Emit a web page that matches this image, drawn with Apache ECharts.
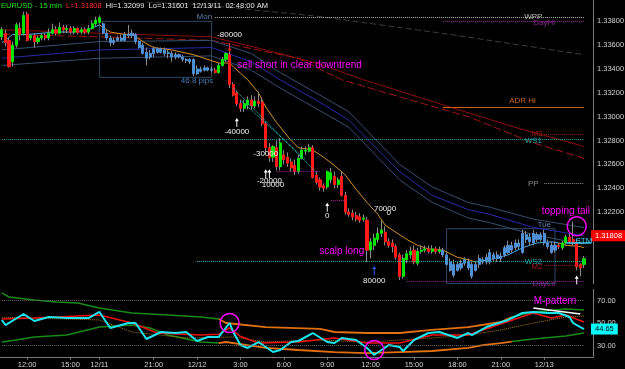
<!DOCTYPE html>
<html>
<head>
<meta charset="utf-8">
<title>EURUSD - 15 min</title>
<script src="https://cdn.jsdelivr.net/npm/echarts@6/dist/echarts.min.js"></script>
<style>
  html, body { margin: 0; padding: 0; background: #000; }
  #chart { width: 625px; height: 369px; }
</style>
</head>
<body>
<div id="chart"></div>
<script>
// 15 min bars, Fri 12/09 10:15 up to Tue 12/13 02:45 (weekend removed)
const barCount = 164;
const tickIndex = [7, 19, 27, 42, 54, 66, 78, 90, 102, 114, 126, 138, 150];
const tickLabels = ['12:00', '15:00', '12/11', '21:00', '12/12', '3:00', '6:00', '9:00', '12:00', '15:00', '18:00', '21:00', '12/13'];

// [open, close, low, high]
const candles = [
  [1.3367, 1.3373, 1.3364, 1.3375], [1.3370, 1.3362, 1.3359, 1.3373], [1.3364, 1.3342, 1.3341, 1.3366],
  [1.3346, 1.3360, 1.3342, 1.3363], [1.3360, 1.3377, 1.3358, 1.3379], [1.3374, 1.3369, 1.3364, 1.3379],
  [1.3370, 1.3385, 1.3368, 1.3388], [1.3386, 1.3364, 1.3363, 1.3388], [1.3366, 1.3368, 1.3364, 1.3369],
  [1.3368, 1.3363, 1.3358, 1.3370], [1.3363, 1.3366, 1.3361, 1.3368], [1.3366, 1.3368, 1.3364, 1.3370],
  [1.3368, 1.3366, 1.3364, 1.3370], [1.3366, 1.3370, 1.3364, 1.3374], [1.3370, 1.3373, 1.3369, 1.3378],
  [1.3373, 1.3370, 1.3368, 1.3376], [1.3370, 1.3375, 1.3369, 1.3379], [1.3375, 1.3373, 1.3370, 1.3377],
  [1.3373, 1.3374, 1.3370, 1.3377], [1.3374, 1.3371, 1.3369, 1.3376], [1.3371, 1.3374, 1.3369, 1.3376],
  [1.3374, 1.3371, 1.3369, 1.3375], [1.3371, 1.3373, 1.3369, 1.3375], [1.3373, 1.3371, 1.3369, 1.3375],
  [1.3371, 1.3374, 1.3369, 1.3377], [1.3374, 1.3378, 1.3373, 1.3381], [1.3378, 1.3381, 1.3376, 1.3384],
  [1.3379, 1.3383, 1.3378, 1.3385],
  // Mon session
  [1.3378, 1.3370, 1.3369, 1.3379], [1.3370, 1.3366, 1.3364, 1.3373], [1.3366, 1.3362, 1.3359, 1.3368],
  [1.3362, 1.3364, 1.3360, 1.3366], [1.3364, 1.3366, 1.3363, 1.3368], [1.3366, 1.3364, 1.3363, 1.3369],
  [1.3364, 1.3369, 1.3363, 1.3371], [1.3369, 1.3368, 1.3366, 1.3377], [1.3368, 1.3370, 1.3366, 1.3373],
  [1.3369, 1.3363, 1.3361, 1.3370], [1.3363, 1.3358, 1.3357, 1.3364], [1.3360, 1.3353, 1.3352, 1.3362],
  [1.3354, 1.3349, 1.3343, 1.3358], [1.3350, 1.3353, 1.3348, 1.3356], [1.3353, 1.3357, 1.3350, 1.3359],
  [1.3357, 1.3354, 1.3353, 1.3358], [1.3354, 1.3357, 1.3353, 1.3358], [1.3356, 1.3353, 1.3351, 1.3358],
  [1.3354, 1.3353, 1.3349, 1.3356], [1.3353, 1.3350, 1.3346, 1.3355], [1.3350, 1.3352, 1.3348, 1.3354],
  [1.3352, 1.3350, 1.3349, 1.3353], [1.3350, 1.3348, 1.3346, 1.3352], [1.3348, 1.3347, 1.3345, 1.3349],
  [1.3348, 1.3346, 1.3344, 1.3349], [1.3348, 1.3336, 1.3334, 1.3349], [1.3336, 1.3340, 1.3335, 1.3343],
  [1.3340, 1.3338, 1.3337, 1.3342], [1.3339, 1.3341, 1.3338, 1.3343], [1.3341, 1.3339, 1.3338, 1.3342],
  [1.3340, 1.3339, 1.3337, 1.3342],
  // Mon after session, the drop
  [1.3339, 1.3337, 1.3336, 1.3341], [1.3337, 1.3343, 1.3336, 1.3345], [1.3343, 1.3348, 1.3342, 1.3350],
  [1.3348, 1.3353, 1.3346, 1.3354], [1.3352, 1.3327, 1.3324, 1.3361], [1.3327, 1.3318, 1.3317, 1.3329],
  [1.3320, 1.3311, 1.3309, 1.3322], [1.3311, 1.3307, 1.3304, 1.3314], [1.3307, 1.3311, 1.3304, 1.3314],
  [1.3310, 1.3314, 1.3306, 1.3317], [1.3314, 1.3309, 1.3306, 1.3318], [1.3309, 1.3313, 1.3307, 1.3317],
  [1.3313, 1.3311, 1.3308, 1.3321], [1.3312, 1.3294, 1.3292, 1.3316], [1.3294, 1.3274, 1.3270, 1.3296],
  [1.3274, 1.3266, 1.3262, 1.3278], [1.3266, 1.3275, 1.3262, 1.3276], [1.3274, 1.3258, 1.3255, 1.3280],
  [1.3258, 1.3278, 1.3255, 1.3282], [1.3268, 1.3264, 1.3260, 1.3272], [1.3266, 1.3261, 1.3258, 1.3270],
  [1.3262, 1.3257, 1.3254, 1.3265], [1.3259, 1.3254, 1.3251, 1.3264], [1.3254, 1.3265, 1.3252, 1.3268],
  [1.3265, 1.3272, 1.3264, 1.3275], [1.3271, 1.3272, 1.3268, 1.3275], [1.3271, 1.3274, 1.3270, 1.3277],
  [1.3274, 1.3249, 1.3248, 1.3276], [1.3251, 1.3245, 1.3243, 1.3254], [1.3247, 1.3241, 1.3238, 1.3249],
  [1.3242, 1.3240, 1.3237, 1.3244], [1.3241, 1.3254, 1.3239, 1.3255], [1.3247, 1.3253, 1.3244, 1.3257],
  [1.3250, 1.3243, 1.3240, 1.3254], [1.3243, 1.3247, 1.3240, 1.3249], [1.3250, 1.3234, 1.3233, 1.3254],
  [1.3234, 1.3220, 1.3218, 1.3237], [1.3220, 1.3218, 1.3216, 1.3223], [1.3219, 1.3216, 1.3213, 1.3222],
  [1.3217, 1.3214, 1.3212, 1.3220], [1.3216, 1.3213, 1.3211, 1.3219], [1.3214, 1.3215, 1.3212, 1.3218],
  [1.3213, 1.3188, 1.3178, 1.3216], [1.3188, 1.3195, 1.3181, 1.3198], [1.3192, 1.3198, 1.3188, 1.3202],
  [1.3197, 1.3202, 1.3194, 1.3207], [1.3202, 1.3205, 1.3199, 1.3213], [1.3203, 1.3195, 1.3192, 1.3208],
  [1.3195, 1.3192, 1.3190, 1.3198], [1.3194, 1.3191, 1.3186, 1.3197], [1.3191, 1.3182, 1.3180, 1.3193],
  [1.3184, 1.3166, 1.3163, 1.3186], [1.3166, 1.3181, 1.3164, 1.3184], [1.3180, 1.3185, 1.3177, 1.3188],
  [1.3184, 1.3187, 1.3181, 1.3191], [1.3188, 1.3178, 1.3176, 1.3192], [1.3177, 1.3187, 1.3175, 1.3190],
  [1.3187, 1.3188, 1.3185, 1.3192], [1.3188, 1.3189, 1.3186, 1.3192], [1.3189, 1.3187, 1.3185, 1.3192],
  [1.3187, 1.3189, 1.3185, 1.3192], [1.3189, 1.3187, 1.3185, 1.3191], [1.3187, 1.3188, 1.3185, 1.3191],
  // Tue session
  [1.3188, 1.3184, 1.3182, 1.3190], [1.3184, 1.3176, 1.3175, 1.3186], [1.3178, 1.3171, 1.3170, 1.3181],
  [1.3176, 1.3167, 1.3165, 1.3180], [1.3176, 1.3171, 1.3170, 1.3178], [1.3173, 1.3177, 1.3171, 1.3180],
  [1.3177, 1.3180, 1.3175, 1.3182], [1.3178, 1.3173, 1.3171, 1.3181], [1.3176, 1.3166, 1.3164, 1.3178],
  [1.3171, 1.3176, 1.3170, 1.3178], [1.3176, 1.3181, 1.3173, 1.3184], [1.3180, 1.3178, 1.3176, 1.3182],
  [1.3178, 1.3182, 1.3176, 1.3185], [1.3178, 1.3186, 1.3176, 1.3189], [1.3184, 1.3181, 1.3178, 1.3186],
  [1.3181, 1.3184, 1.3178, 1.3187], [1.3183, 1.3181, 1.3178, 1.3186], [1.3184, 1.3190, 1.3182, 1.3192],
  [1.3186, 1.3192, 1.3185, 1.3196], [1.3192, 1.3188, 1.3186, 1.3195], [1.3190, 1.3194, 1.3188, 1.3197],
  [1.3191, 1.3194, 1.3189, 1.3197], [1.3186, 1.3202, 1.3185, 1.3205], [1.3201, 1.3197, 1.3194, 1.3204],
  [1.3199, 1.3195, 1.3192, 1.3202], [1.3194, 1.3202, 1.3192, 1.3205], [1.3201, 1.3197, 1.3195, 1.3203],
  [1.3197, 1.3201, 1.3195, 1.3203], [1.3202, 1.3194, 1.3192, 1.3205], [1.3194, 1.3191, 1.3189, 1.3197],
  [1.3192, 1.3186, 1.3185, 1.3195], [1.3188, 1.3192, 1.3186, 1.3195],
  // 12/13 early
  [1.3192, 1.3191, 1.3189, 1.3194], [1.3190, 1.3194, 1.3188, 1.3196], [1.3194, 1.3199, 1.3192, 1.3201],
  [1.3199, 1.3195, 1.3193, 1.3202], [1.3197, 1.3194, 1.3192, 1.3212], [1.3194, 1.3174, 1.3171, 1.3197],
  [1.3176, 1.3173, 1.3166, 1.3177], [1.3176, 1.31808, 1.3173, 1.3183]
];

// bars painted blue inside the session boxes
const monSession = [28, 58];
const tueSession = [122, 153];

// moving average [bar, value]; blue while rising, orange while falling
const ema = [
  [0, 1.3362], [1, 1.3364], [3, 1.3369], [7, 1.3369], [11, 1.3370], [15, 1.3371], [20, 1.3371], [24, 1.3373],
  [27, 1.3377], [30, 1.3371], [34, 1.3369], [36, 1.3369], [39, 1.3363], [42, 1.3358], [47, 1.3356], [53, 1.3352],
  [57, 1.3348], [60, 1.3345], [63, 1.3345], [64, 1.3342], [68, 1.3331], [71, 1.3320], [73, 1.3308], [76, 1.3295],
  [80, 1.3280], [82, 1.3274], [86, 1.3272], [89, 1.3266], [92, 1.3259], [95, 1.3251], [98, 1.3239], [101, 1.3228],
  [104, 1.3218], [106, 1.3209], [109, 1.3203], [112, 1.3197], [115, 1.3192], [118, 1.3189], [122, 1.3188],
  [126, 1.3182], [129, 1.3180], [131, 1.3178], [135, 1.3180], [140, 1.3184], [144, 1.3190], [148, 1.3194],
  [152, 1.3195], [154, 1.3194], [156, 1.3192], [160, 1.3191], [161, 1.3190]
];
const emaRising = [[0, 27], [131, 154]];
const emaFalling = [[27, 131], [154, 161]];

const redBandA = [[0, 1.3373], [27, 1.3370], [58, 1.3367], [73, 1.3356], [87, 1.3345], [100, 1.3331], [124, 1.3308], [142, 1.3291], [161, 1.3275]];
const redBandB = [[0, 1.3369], [27, 1.3367], [58, 1.3364], [82, 1.3349], [94, 1.3331], [113, 1.3314], [129, 1.3300], [147, 1.3278], [161, 1.3265]];
const navyMid = [[0, 1.3349], [27, 1.3356], [58, 1.3358], [69, 1.3346], [77, 1.3331], [88, 1.3312], [96, 1.3297], [110, 1.3254], [119, 1.3234], [129, 1.3222], [135, 1.3218], [147, 1.3207], [161, 1.3200]];
const slateUpper = [[0, 1.3356], [27, 1.3363], [58, 1.3364], [69, 1.3353], [77, 1.3337], [88, 1.3318], [96, 1.3304], [110, 1.3260], [119, 1.3241], [129, 1.3228], [135, 1.3224], [147, 1.3214], [161, 1.3207]];
const slateLower = [[0, 1.3343], [27, 1.3349], [58, 1.3351], [69, 1.3339], [77, 1.3324], [88, 1.3305], [96, 1.3291], [110, 1.3247], [119, 1.3228], [129, 1.3215], [135, 1.3211], [147, 1.3201], [161, 1.3193]];
const slowMa = [[40, 1.3396], [55, 1.3394], [88, 1.3384], [124, 1.3369], [161, 1.3352]];

// pivot levels: name, price, first bar
const levels = [
  ['WPP', 1.33836, 59], ['DayHi', 1.3380, 122], ['ADR Hi', 1.3308, 122], ['M3', 1.3285, 150],
  ['WS1', 1.3281, 0], ['PP', 1.3244, 150], ['WS2', 1.3179, 54], ['M2', 1.3175, 150], ['DayLo', 1.3162, 112]
];
const levelTags = [
  ['WPP', 147, 1.33836], ['DayHi', 150, 1.3379], ['ADR Hi', 144, 1.3313], ['M3', 148, 1.3286],
  ['WS1', 147, 1.3280], ['PP', 147, 1.3244], ['WS2', 147, 1.3178], ['M2', 148, 1.3174], ['DayLo', 150, 1.3160]
];
const stm = [1.3194, 156];
const lastPrice = 1.31808;

// trade marks
const tradeTags = [['-80000', 63, 1.3369], ['-40000', 65, 1.3287], ['-30000', 73, 1.3269], ['-20000', 74, 1.3246],
  ['10000', 75, 1.3243], ['0', 90, 1.3217], ['70000', 106, 1.3223], ['0', 107, 1.3219], ['80000', 103, 1.3162]];
const upArrows = [[65, 1.3295], [73, 1.3252], [74, 1.3252], [90, 1.3224], [159, 1.3163]];
const blueArrow = [103, 1.3171];
const redArrow = [63, 1.3358];
const stopLines = [[[64, 1.3324], [87, 1.3253]], [[66, 1.3314], [84, 1.3264]]];
const stopLevels = [[[76, 1.3254], [88, 1.3254]], [[91, 1.3230], [95, 1.3230]]];

// oscillator pane [bar, value]
const osc = [
  [0, 52.7], [1, 48.2], [6, 58], [9, 51.8], [13, 55.3], [18, 54.4], [24, 54.4], [27, 59.8], [30, 45.6], [35, 50],
  [37, 50], [40, 35.8], [44, 42], [48, 41.1], [51, 42], [54, 34], [57, 37.6], [60, 37.6], [63, 50], [64, 42],
  [66, 30.4], [68, 27.8], [71, 33.1], [73, 28.7], [75, 24.2], [77, 26], [80, 33.1], [82, 34], [86, 41.1], [90, 33.1],
  [92, 32.2], [94, 36.7], [98, 34.9], [101, 27.8], [103, 21.6], [105, 26], [107, 30.4], [110, 28.7], [111, 25.1],
  [114, 34.9], [118, 41.1], [121, 42], [126, 36.7], [129, 41.1], [130, 39.3], [134, 46.4], [140, 52.7], [144, 58.9],
  [147, 59.8], [151, 58.9], [154, 58.9], [157, 55.3], [158, 50], [160, 46.4], [161, 44.65]
];
const oscSignal = [[0, 53.6], [9, 54.4], [27, 57.1], [36, 50], [43, 41.1], [55, 39.3], [60, 40], [63, 45.6], [66, 38],
  [71, 32.2], [82, 33.1], [92, 36.7], [101, 32.2], [110, 32.2], [119, 39.3], [129, 39.3], [133, 43.8], [147, 58.9],
  [152, 54.4], [156, 57.1], [161, 50.9]];
const oscUpper = [[0, 76.7], [2, 73.1], [9, 70.4], [15, 68.7], [21, 67.8], [27, 63.3], [36, 58.9], [46, 57.1], [55, 55.3],
  [60, 53.6], [62, 50], [73, 46.4], [88, 44.7], [92, 42], [101, 41.1], [110, 41.1], [119, 43.8], [129, 46.4], [138, 50.9],
  [141, 55.3], [147, 59.8], [156, 62.4], [161, 61.6]];
const oscLower = [[0, 33.1], [4, 34.9], [9, 37.6], [18, 39.3], [27, 46.4], [36, 48.2], [41, 45.6], [46, 39.3], [55, 33.1],
  [60, 32.2], [62, 33.1], [73, 27.8], [82, 26], [92, 24.2], [101, 23.3], [110, 24.2], [119, 25.1], [129, 27.8], [133, 30.4],
  [138, 32.2], [141, 33.5], [147, 35.8], [156, 38.4], [161, 41.1]];
const bandGreen = [[0, 60], [141, 161]];
const bandOrange = [[60, 141]];
const oscMid = [[0, 55.1], [27, 52.7], [36, 42], [51, 36.7], [64, 37.6], [73, 33.1], [88, 34.9], [101, 33], [119, 36.7],
  [129, 39.3], [138, 43.8], [147, 50], [156, 55.3], [161, 56.2]];
const oscCircles = [[63, 50], [103, 26]];
const mTop = [[147, 63.3], [160, 58]];

const font = 'Liberation Sans, Arial, sans-serif';
const green = '#00e400', red = '#ff1a1a', sessionBlue = '#4f8fd4', wickGrey = '#8a8a8a';
const magenta = '#ff00ff';
const levelStyle = {
  'WPP': ['#b8b8b8', 'dotted'], 'DayHi': ['#8e2296', 'dotted'], 'ADR Hi': ['#c8641e', 'solid'],
  'M3': ['#a01818', 'dotted'], 'WS1': ['#1ea8a8', 'dotted'], 'PP': ['#8a8a8a', 'dotted'],
  'WS2': ['#1ea8a8', 'dotted'], 'M2': ['#a01818', 'dotted'], 'DayLo': ['#8e2296', 'dotted']
};

const cats = [];
for (let i = 0; i < barCount; i++) cats.push(String(i));

const inSession = (i) => (i >= monSession[0] && i <= monSession[1]) || (i >= tueSession[0] && i <= tueSession[1]);
const bodies = candles.map((c, i) => {
  const item = { value: [c[0], c[1], Math.min(c[0], c[1]), Math.max(c[0], c[1])] };
  if (inSession(i)) {
    item.itemStyle = { color: sessionBlue, color0: sessionBlue, borderColor: sessionBlue, borderColor0: sessionBlue };
  }
  return item;
});

// piece of a [bar, value] list between two bars
const part = (pts, r) => pts.filter(p => p[0] >= r[0] && p[0] <= r[1]);

function tag(text, bar, value, color, size, pos) {
  return {
    coord: [bar, value], symbol: 'circle', symbolSize: 1, itemStyle: { color: 'rgba(0,0,0,0)' },
    label: { show: true, position: pos || 'inside', distance: 0, formatter: text, color: color, fontSize: size, fontFamily: font }
  };
}
function arrow(bar, value, color, down) {
  return {
    coord: [bar, value], symbol: 'path://M5,0 L10,5 L6.2,5 L6.2,14 L3.8,14 L3.8,5 L0,5 Z',
    symbolSize: [4, 9], symbolRotate: down ? 180 : 0, itemStyle: { color: color }, label: { show: false }
  };
}
function ring(bar, value) {
  return {
    coord: [bar, value], symbol: 'circle', symbolSize: 19,
    itemStyle: { color: 'rgba(0,0,0,0)', borderColor: magenta, borderWidth: 1.5 }, label: { show: false }
  };
}
function line(data, color, width, type, pane, z) {
  return {
    type: 'line', data: data, showSymbol: false, symbol: 'none', silent: true, z: z || 1,
    xAxisIndex: pane, yAxisIndex: pane,
    lineStyle: { color: color, width: width, type: type || 'solid' }
  };
}
function seg(a, b, color, type, width) {
  return [{ coord: a, lineStyle: { color: color, type: type, width: width || 1 } }, { coord: b }];
}
function priceTag(value, text, fg, bg) {
  return {
    yAxis: value, lineStyle: { color: 'rgba(0,0,0,0)', width: 0 },
    label: { show: true, position: 'end', distance: -2, formatter: text, color: fg, backgroundColor: bg,
      padding: [2, 4, 1, 4], fontSize: 7.5, fontFamily: font }
  };
}

const priceMarks = [];
levels.forEach(l => {
  const s = levelStyle[l[0]];
  priceMarks.push(seg([l[2], l[1]], [161, l[1]], s[0], s[1], 1));
});
stopLines.forEach(s => priceMarks.push(seg(s[0], s[1], '#2ad0d0', 'dotted', 1)));
stopLevels.forEach(s => priceMarks.push(seg(s[0], s[1], '#a020a0', 'dotted', 1)));
priceMarks.push(seg([stm[1], stm[0]], [163, stm[0]], '#40c8e8', 'solid', 1.5));

const priceTags = [];
levelTags.forEach(t => priceTags.push(tag(t[0], t[1], t[2], levelStyle[t[0]][0], 8)));
priceTags.push(tag('STM', 161, 1.3196, '#40d8ff', 8));
priceTags.push(tag('Mon', 56, 1.3384, '#5a80aa', 8));
priceTags.push(tag('Tue', 150, 1.3209, '#5a80aa', 8));
priceTags.push(tag('46.8 pips', 54, 1.3330, '#4a7ab4', 8));
priceTags.push(tag('sell short in clear downtrend', 65, 1.3343, magenta, 10, 'right'));
priceTags.push(tag('scalp long', 94, 1.3187, magenta, 10));
priceTags.push(tag('topping tail', 156, 1.3221, magenta, 10));
tradeTags.forEach(t => priceTags.push(tag(t[0], t[1], t[2], '#f0f0f0', 8)));
upArrows.forEach(a => priceTags.push(arrow(a[0], a[1], '#ffffff', false)));
priceTags.push(arrow(blueArrow[0], blueArrow[1], '#2f5cff', false));
priceTags.push(arrow(redArrow[0], redArrow[1], '#ff2020', true));
priceTags.push(ring(159, 1.3208));

const series = [
  { // wicks
    type: 'candlestick', xAxisIndex: 0, yAxisIndex: 0, data: candles, barWidth: 1, z: 3, silent: true,
    itemStyle: { color: wickGrey, color0: wickGrey, borderColor: wickGrey, borderColor0: wickGrey, borderWidth: 1 },
    markArea: {
      silent: true, label: { show: false },
      itemStyle: { color: 'rgba(0,0,0,0)', borderColor: '#2d4763', borderWidth: 1 },
      data: [
        [{ coord: [monSession[0] - 1, 1.3380] }, { coord: [monSession[1], 1.3333] }],
        [{ coord: [tueSession[0] + 1, 1.3206] }, { coord: [tueSession[1], 1.3160] }]
      ]
    }
  },
  { // bodies
    type: 'candlestick', xAxisIndex: 0, yAxisIndex: 0, data: bodies, barWidth: 2.6, z: 4, silent: true,
    itemStyle: { color: green, color0: red, borderColor: green, borderColor0: red, borderWidth: 1 },
    markPoint: { silent: true, data: priceTags, z: 6 },
    markLine: { silent: true, symbol: ['none', 'none'], label: { show: false },
      data: [priceTag(lastPrice, '1.31808', '#ffffff', '#ff0000')] }
  }
];
emaRising.forEach(r => series.push(line(part(ema, r), '#4aa8e0', 1, 'solid', 0, 2)));
emaFalling.forEach(r => series.push(line(part(ema, r), '#d4902a', 1, 'solid', 0, 2)));
series.push(line(redBandA, '#8c0c0c', 1, 'solid', 0));
series.push(line(redBandB, '#a01414', 1, [8, 3], 0));
series.push(line(navyMid, '#2a2aa8', 1, 'solid', 0));
series.push(line(slateUpper, '#34506e', 1, 'solid', 0));
series.push(line(slateLower, '#34506e', 1, 'solid', 0));
series.push(Object.assign(line(slowMa, '#3c3c3c', 1, [6, 3], 0), {
  markLine: { silent: true, symbol: ['none', 'none'], label: { show: false }, data: priceMarks }
}));
// oscillator pane
[oscUpper, oscLower].forEach(band => {
  bandGreen.forEach(r => series.push(line(part(band, r), '#178a17', 1.5, 'solid', 1)));
  bandOrange.forEach(r => series.push(line(part(band, r), '#e07010', 1.8, 'solid', 1)));
});
series.push(Object.assign(line(oscMid, '#b07a10', 1, 'dotted', 1), {
  markLine: { silent: true, symbol: ['none', 'none'], label: { show: false },
    data: [seg([0, 70], [161, 70], '#6a6a6a', 'dotted'), seg([0, 30], [161, 30], '#6a6a6a', 'dotted')] }
}));
series.push(line(oscSignal, '#ee1010', 1.5, 'solid', 1, 3));
series.push(Object.assign(line(osc, '#19e6f0', 2, 'solid', 1, 4), {
  markPoint: { silent: true,
    data: [ring(oscCircles[0][0], oscCircles[0][1]), ring(oscCircles[1][0], oscCircles[1][1]),
      tag('M-pattern', 153, 69.6, magenta, 10)] },
  markLine: { silent: true, symbol: ['none', 'none'], label: { show: false },
    data: [seg(mTop[0], mTop[1], '#ffffff', 'solid', 1.5), priceTag(44.65, '44.65', '#000000', '#00ffff')] }
}));

const option = {
  backgroundColor: '#000',
  animation: false,
  title: {
    left: 1, top: 0, padding: 0,
    text: '{g|EURUSD - 15 min}  {r|L=1.31808}  {w|Hi=1.32099}  {w|Lo=1.31601}  {w|12/13/11}  {w|02:48:00 AM}',
    textStyle: {
      fontSize: 7.5, fontFamily: font, fontWeight: 'normal', lineHeight: 11,
      rich: {
        g: { color: '#22e022', fontSize: 7.5, fontFamily: font },
        r: { color: '#ff3030', fontSize: 7.5, fontFamily: font },
        w: { color: '#e8e8e8', fontSize: 7.5, fontFamily: font }
      }
    }
  },
  grid: [
    { left: 0, right: 32, top: 0, height: 283.5, outerBoundsMode: 'none', containLabel: false },
    { left: 0, right: 32, top: 289.25, height: 67.5, outerBoundsMode: 'none', containLabel: false }
  ],
  xAxis: [
    { type: 'category', gridIndex: 0, data: cats, boundaryGap: true,
      axisLine: { show: false }, axisTick: { show: false }, axisLabel: { show: false }, splitLine: { show: false } },
    { type: 'category', gridIndex: 1, data: cats, boundaryGap: true,
      axisLine: { show: true, lineStyle: { color: '#7a7a7a' } },
      axisTick: { show: true, length: 3, alignWithLabel: true, interval: (i) => tickIndex.includes(i), lineStyle: { color: '#7a7a7a' } },
      axisLabel: { show: true, interval: (i) => tickIndex.includes(i), formatter: (v, i) => tickLabels[tickIndex.indexOf(i)] || '',
        color: '#d0d0d0', fontSize: 7.5, fontFamily: font, margin: 4 },
      splitLine: { show: false } }
  ],
  yAxis: [
    { type: 'value', gridIndex: 0, position: 'right', min: 1.316, max: 1.33979, interval: 0.002, scale: true,
      axisLine: { show: true, lineStyle: { color: '#7a7a7a' } }, axisTick: { show: false }, splitLine: { show: false },
      axisLabel: { color: '#d0d0d0', fontSize: 7.5, fontFamily: font, margin: 4, showMinLabel: true, showMaxLabel: true,
        formatter: (v) => {
          const k = Math.round(v / 0.002);
          if (Math.abs(v - k * 0.002) > 1e-7 || v < 1.3185) return '';
          return v.toFixed(5);
        } } },
    { type: 'value', gridIndex: 1, position: 'right', min: 20, max: 80, interval: 10,
      axisLine: { show: true, lineStyle: { color: '#7a7a7a' } }, axisTick: { show: false }, splitLine: { show: false },
      axisLabel: { color: '#d0d0d0', fontSize: 7.5, fontFamily: font, margin: 4,
        formatter: (v) => (v === 30 || v === 50 || v === 70) ? v.toFixed(2) : '' } }
  ],
  series: series
};

const myChart = echarts.init(document.getElementById('chart'), null, { renderer: 'canvas' });
myChart.setOption(option);
window.addEventListener('resize', myChart.resize);
</script>
</body>
</html>
